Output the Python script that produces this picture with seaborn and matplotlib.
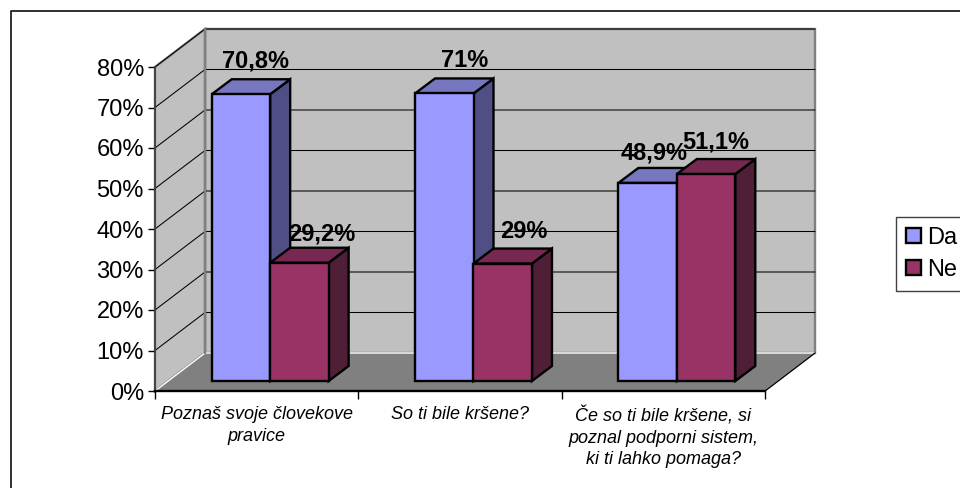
import pandas as pd
import matplotlib
matplotlib.use("Agg")
import matplotlib.pyplot as plt
from matplotlib.lines import Line2D
from matplotlib.patches import Polygon
import seaborn as sns

categories = ["Poznaš svoje človekove\npravice",
              "So ti bile kršene?",
              "Če so ti bile kršene, si\npoznal podporni sistem,\nki ti lahko pomaga?"]
series_names = ["Da", "Ne"]
da_values = [70.8, 71, 48.9]
ne_values = [29.2, 29, 51.1]
y_ticks = [0, 10, 20, 30, 40, 50, 60, 70, 80]

FONT = "Liberation Sans"
W, H = 960, 488

sns.set_theme(style="white")
plt.rcParams["font.family"] = [FONT, "DejaVu Sans"]

df = pd.DataFrame({
    "cat": categories * 2,
    "series": [series_names[0]] * 3 + [series_names[1]] * 3,
    "value": da_values + ne_values,
})

fig = plt.figure(figsize=(W / 100, H / 100), dpi=100, facecolor="white")
ax = fig.add_axes([155 / W, 1 - 391 / H, 610 / W, 324 / H])
sns.barplot(data=df, x="cat", y="value", hue="series", ax=ax, width=0.575,
            palette=["#9999FF", "#993366"], saturation=1, edgecolor="black",
            linewidth=1.7)
ax.set_xlim(-0.5, 2.5)
ax.set_ylim(0, 80)
ax.set(xlabel="", ylabel="")

# one pixel in data units, everything 3D is an offset of the real axes
ux, uy = 3 / 610, 80 / 324
wall_dx, wall_dy = 50 * ux, 38 * uy
depth_dx, depth_dy = 20 * ux, 15 * uy
front_dx, front_dy = 13.5 * ux, 10 * uy

# walls and floor
wall_kw = dict(clip_on=False, zorder=0.5, edgecolor="#808080", linewidth=1.7)
x0, x1 = -0.5, 2.5
ax.add_patch(Polygon([(x0 + wall_dx, wall_dy), (x1 + wall_dx, wall_dy),
                      (x1 + wall_dx, 80 + wall_dy), (x0 + wall_dx, 80 + wall_dy)],
                     facecolor="#C0C0C0", **wall_kw))
ax.add_patch(Polygon([(x0, 0), (x0 + wall_dx, wall_dy),
                      (x0 + wall_dx, 80 + wall_dy), (x0, 80)],
                     facecolor="#C0C0C0", **wall_kw))
ax.add_patch(Polygon([(x0, 0), (x1, 0), (x1 + wall_dx, wall_dy), (x0 + wall_dx, wall_dy)],
                     facecolor="#808080", clip_on=False, zorder=0.55))
ax.plot([x1, x1 + wall_dx], [0, wall_dy], color="black", lw=1, clip_on=False, zorder=0.6)

for t in y_ticks[1:]:
    ax.plot([x0, x0 + wall_dx, x1 + wall_dx], [t, t + wall_dy, t + wall_dy],
            color="black", lw=0.75, clip_on=False, zorder=0.6)
ax.plot([x0 + wall_dx] * 2, [wall_dy, 80 + wall_dy], color="#808080", lw=1.7,
        clip_on=False, zorder=0.7)

# bars: move the fronts onto their plane and add side and top faces
side_colors = ["#4F4F85", "#4F1F38"]
top_colors = ["#7777BF", "#772850"]
label_dx = [[15, 20, 7], [22, 21, 10]]
label_dy = [[33, 33, 30], [29, 32, 32]]
face_kw = dict(edgecolor="black", linewidth=1.7, clip_on=False, joinstyle="miter")
z = 1.0
for cat_i in range(len(categories)):
    for s_i, bars in enumerate(ax.containers):
        bar = bars[cat_i]
        val = bar.get_height()
        bar.set_x(bar.get_x() + front_dx)
        bar.set_y(front_dy)
        bar.set_clip_on(False)
        bar.set_joinstyle("miter")
        bar.set_zorder(z)
        left, right = bar.get_x(), bar.get_x() + bar.get_width()
        top = front_dy + val
        ax.add_patch(Polygon([(right, front_dy), (right + depth_dx, front_dy + depth_dy),
                              (right + depth_dx, top + depth_dy), (right, top)],
                             facecolor=side_colors[s_i], zorder=z - 0.1, **face_kw))
        ax.add_patch(Polygon([(left, top), (left + depth_dx, top + depth_dy),
                              (right + depth_dx, top + depth_dy), (right, top)],
                             facecolor=top_colors[s_i], zorder=z - 0.1, **face_kw))
        ax.annotate(f"{val:g}".replace(".", ",") + "%",
                    xy=((left + right) / 2, top), xycoords="data",
                    xytext=(label_dx[s_i][cat_i] * 0.72, label_dy[s_i][cat_i] * 0.72),
                    textcoords="offset points", ha="center", va="center",
                    fontsize=17, fontweight="bold", color="black",
                    annotation_clip=False, zorder=10)
        z += 1

# axes
sns.despine(ax=ax, top=True, right=True)
ax.spines["left"].set(color="#404040", linewidth=1.3)
ax.spines["bottom"].set(color="black", linewidth=1.7)
ax.set_yticks(y_ticks)
ax.set_yticklabels([f"{t}%" for t in y_ticks], fontsize=17, color="black")
ax.tick_params(axis="y", left=True, length=5, width=1, color="black", pad=3)
ax.set_xticks(range(3))
ax.set_xticklabels(categories, fontsize=13, style="italic", color="black",
                   linespacing=1.35)
ax.set_xticks([-0.5, 0.5, 1.5, 2.5], minor=True)
ax.tick_params(axis="x", which="major", length=0, pad=11)
ax.tick_params(axis="x", which="minor", bottom=True, length=6, width=1, color="black")

# legend runs off the right edge like the frame
handles, labels = ax.get_legend_handles_labels()
leg = ax.legend(handles, labels, loc="upper left",
                bbox_to_anchor=(896 / W, 1 - 217 / H), bbox_transform=fig.transFigure,
                borderaxespad=0, fancybox=False, framealpha=1, edgecolor="#404040",
                handlelength=0.62, handleheight=0.62, handletextpad=0.28,
                labelspacing=0.42, borderpad=0.42, prop={"family": FONT, "size": 17})
leg.get_frame().set_linewidth(1)
for txt in leg.get_texts():
    txt.set_color("black")
leg.set_zorder(20)

# chart frame, only top and left are inside the picture
fig.add_artist(Line2D([11 / W, 11 / W, 1], [0, 1 - 11 / H, 1 - 11 / H],
                      color="#202020", lw=1.3, transform=fig.transFigure))

fig.savefig("out.png", dpi=100)
